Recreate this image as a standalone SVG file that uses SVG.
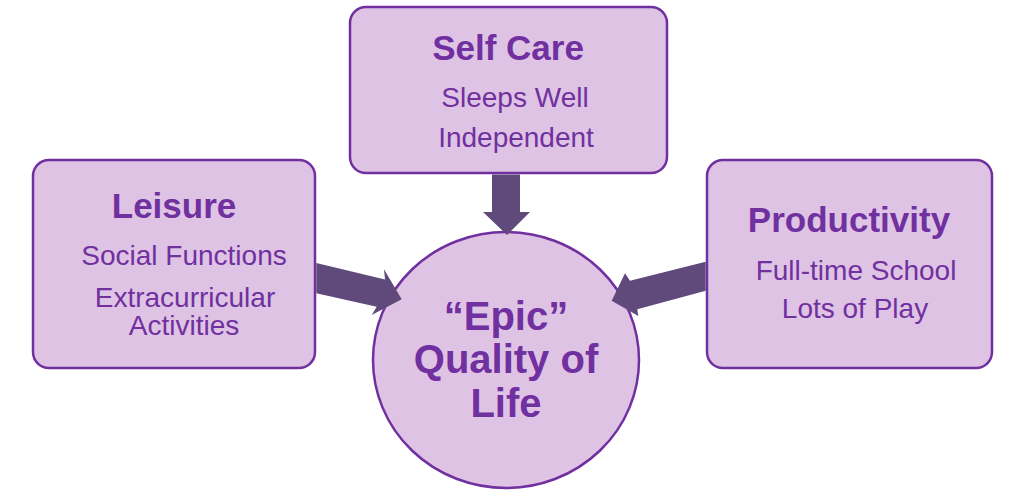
<svg xmlns="http://www.w3.org/2000/svg" width="1024" height="503" viewBox="0 0 1024 503">
<style>
.box{fill:#dfc3e4;stroke:#7030a0;stroke-width:2.5}
.arr{fill:#604a7b}
text{font-family:"Liberation Sans",Arial,sans-serif;fill:#7030a0;text-anchor:middle}
.t{font-weight:bold;font-size:35px}
.s{font-size:28px}
.c{font-weight:bold;font-size:40px}
</style>
<rect width="1024" height="503" fill="#ffffff"/>
<g id="selfcare">
<rect class="box" x="350" y="7" width="317" height="166" rx="16"/>
<text class="t" x="508" y="60">Self Care</text>
<text class="s" x="515" y="107">Sleeps Well</text>
<text class="s" x="516" y="147">Independent</text>
</g>
<g id="leisure">
<rect class="box" x="33" y="160" width="282" height="208" rx="16"/>
<text class="t" x="174" y="218">Leisure</text>
<text class="s" x="184" y="265">Social Functions</text>
<text class="s" x="185" y="307">Extracurricular</text>
<text class="s" x="184" y="335">Activities</text>
</g>
<g id="productivity">
<rect class="box" x="707" y="160" width="285" height="208" rx="16"/>
<text class="t" x="849" y="232">Productivity</text>
<text class="s" x="856" y="280">Full-time School</text>
<text class="s" x="855" y="318">Lots of Play</text>
</g>
<g id="quality">
<ellipse class="box" cx="506" cy="360" rx="133" ry="128"/>
<text class="c" x="506" y="330">“Epic”</text>
<text class="c" x="506" y="373">Quality of</text>
<text class="c" x="506" y="417">Life</text>
</g>
<g id="connectors">
<polygon class="arr" points="492,174.5 520,174.5 520,212 530,212 507,235 483,212 492,212"/>
<polygon class="arr" points="316.3,263 385,279.5 384,269.3 401.7,299.3 371.7,315 376.7,306.7 316.3,293.3"/>
<polygon class="arr" points="705.7,261.7 630,280.7 625,273.3 611.7,300.7 638.3,316 637.3,309.3 705.7,290.7"/>
</g>
</svg>
